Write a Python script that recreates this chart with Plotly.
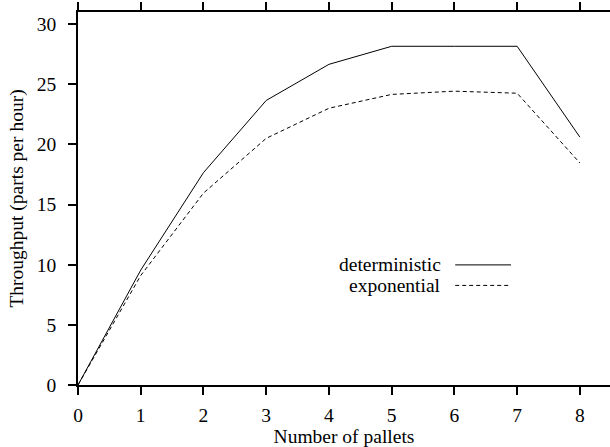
import plotly.graph_objects as go

pallets = [0, 1, 2, 3, 4, 5, 6, 7, 8]
deterministic = [0, 9.55, 17.65, 23.65, 26.65, 28.15, 28.15, 28.15, 20.6]
exponential = [0, 9.1, 15.95, 20.5, 23.0, 24.15, 24.42, 24.25, 18.45]
series_names = ["deterministic", "exponential"]
x_ticks = [0, 1, 2, 3, 4, 5, 6, 7, 8]
y_ticks = [0, 5, 10, 15, 20, 25, 30]

font = dict(family="Liberation Serif", size=19.5, color="black")

fig = go.Figure()
fig.add_trace(go.Scatter(x=pallets, y=deterministic, mode="lines", name=series_names[0],
                         line=dict(color="black", width=1), showlegend=False))
fig.add_trace(go.Scatter(x=pallets, y=exponential, mode="lines", name=series_names[1],
                         line=dict(color="black", width=1, dash="4px,3px"), showlegend=False))

# legend drawn manually (text to the left of the key line)
leg_y = [0.322, 0.267]
dashes = ["solid", "4px,3px"]
for name, yy, d in zip(series_names, leg_y, dashes):
    fig.add_annotation(x=0.687, y=yy, xref="paper", yref="paper", text=name,
                       showarrow=False, xanchor="right", yanchor="middle", font=font)
    fig.add_shape(type="line", xref="paper", yref="paper", x0=0.709, x1=0.814, y0=yy, y1=yy,
                  line=dict(color="black", width=1, dash=d))

fig.update_layout(
    width=610, height=447,
    margin=dict(l=78, r=0, t=12, b=62, autoexpand=False),
    paper_bgcolor="white", plot_bgcolor="white",
    font=font,
)
fig.update_xaxes(range=[0, 8.48], tickvals=x_ticks, ticks="outside", ticklen=8, tickwidth=1.5,
                 tickcolor="black", showline=True, linecolor="black", linewidth=1.5,
                 mirror="ticks", showgrid=False, zeroline=False, automargin=False,
                 title=dict(text="Number of pallets", font=font),
                 tickfont=font, ticklabelstandoff=4)
fig.update_yaxes(range=[0, 31], tickvals=y_ticks, ticks="outside", ticklen=8, tickwidth=1.5,
                 tickcolor="black", showline=True, linecolor="black", linewidth=1.5,
                 showgrid=False, zeroline=False, automargin=False,
                 title=dict(text="Throughput (parts per hour)", font=font, standoff=8),
                 tickfont=font, ticklabelstandoff=8)

fig.write_html("out.html", config={"displayModeBar": False})
with open("out.html", encoding="utf-8") as f:
    html = f.read()
html = html.replace("<head>", "<head><style>html,body{margin:0;padding:0;overflow:hidden;}</style>", 1)
with open("out.html", "w", encoding="utf-8") as f:
    f.write(html)
